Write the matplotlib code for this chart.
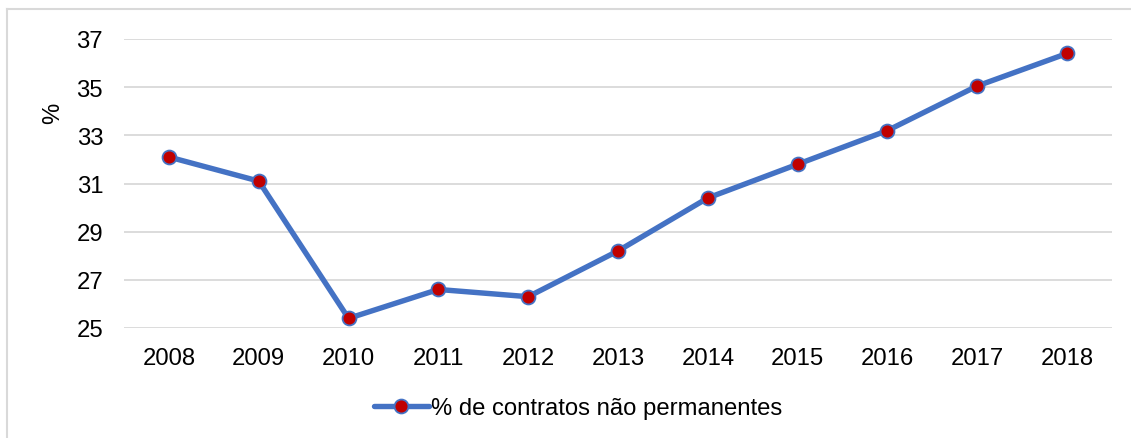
import matplotlib
matplotlib.use("Agg")
import matplotlib.pyplot as plt
from matplotlib.lines import Line2D

plt.rcParams['font.family'] = ['Liberation Sans', 'DejaVu Sans']

years = ['2008', '2009', '2010', '2011', '2012', '2013', '2014', '2015', '2016', '2017', '2018']
pct_nonpermanent = [32.1, 31.1, 25.4, 26.6, 26.3, 28.2, 30.4, 31.8, 33.2, 35.05, 36.4]
y_ticks = [25, 27, 29, 31, 33, 35, 37]
series_label = '% de contratos não permanentes'

W, H = 1131, 439
FS = 17.2
fig = plt.figure(figsize=(W / 100, H / 100), dpi=100)
ax = fig.add_axes([124 / W, (H - 329) / H, (1112 - 124) / W, (329 - 40) / H])

x = list(range(len(years)))
ax.plot(x, pct_nonpermanent, color='#4472C4', linewidth=3.9, solid_capstyle='round',
        marker='o', markersize=10, markerfacecolor='#C00000',
        markeredgecolor='#4472C4', markeredgewidth=1.3, label=series_label, zorder=3)

ax.set_xlim(-0.5, len(years) - 0.5)
ax.set_ylim(25, 37)
ax.set_xticks(x)
ax.set_xticklabels(years)
ax.set_yticks(y_ticks)
ax.tick_params(axis='both', length=0, labelsize=FS, colors='black')
ax.tick_params(axis='x', pad=13.5)
ax.tick_params(axis='y', pad=15)
for s in ax.spines.values():
    s.set_visible(False)
ax.grid(axis='y', color='#D9D9D9', linewidth=1.3)
ax.set_axisbelow(True)

ax.set_ylabel('%', fontsize=FS)
ax.yaxis.set_label_coords((64 - 124) / (1112 - 124), (329 - 113) / (329 - 40))

leg = fig.legend(loc='center', bbox_to_anchor=(578 / W, (H - 409) / H),
                 frameon=False, fontsize=FS, handlelength=2.3,
                 handletextpad=0.1, borderpad=0)

# light frame around the chart area
fig.add_artist(Line2D([7 / W, 7 / W], [0, (H - 10) / H], color='#D9D9D9', linewidth=1.5,
                      transform=fig.transFigure))
fig.add_artist(Line2D([7 / W, 1], [(H - 10) / H, (H - 10) / H], color='#D9D9D9', linewidth=1.5,
                      transform=fig.transFigure))

fig.savefig('out.png', dpi=100)
